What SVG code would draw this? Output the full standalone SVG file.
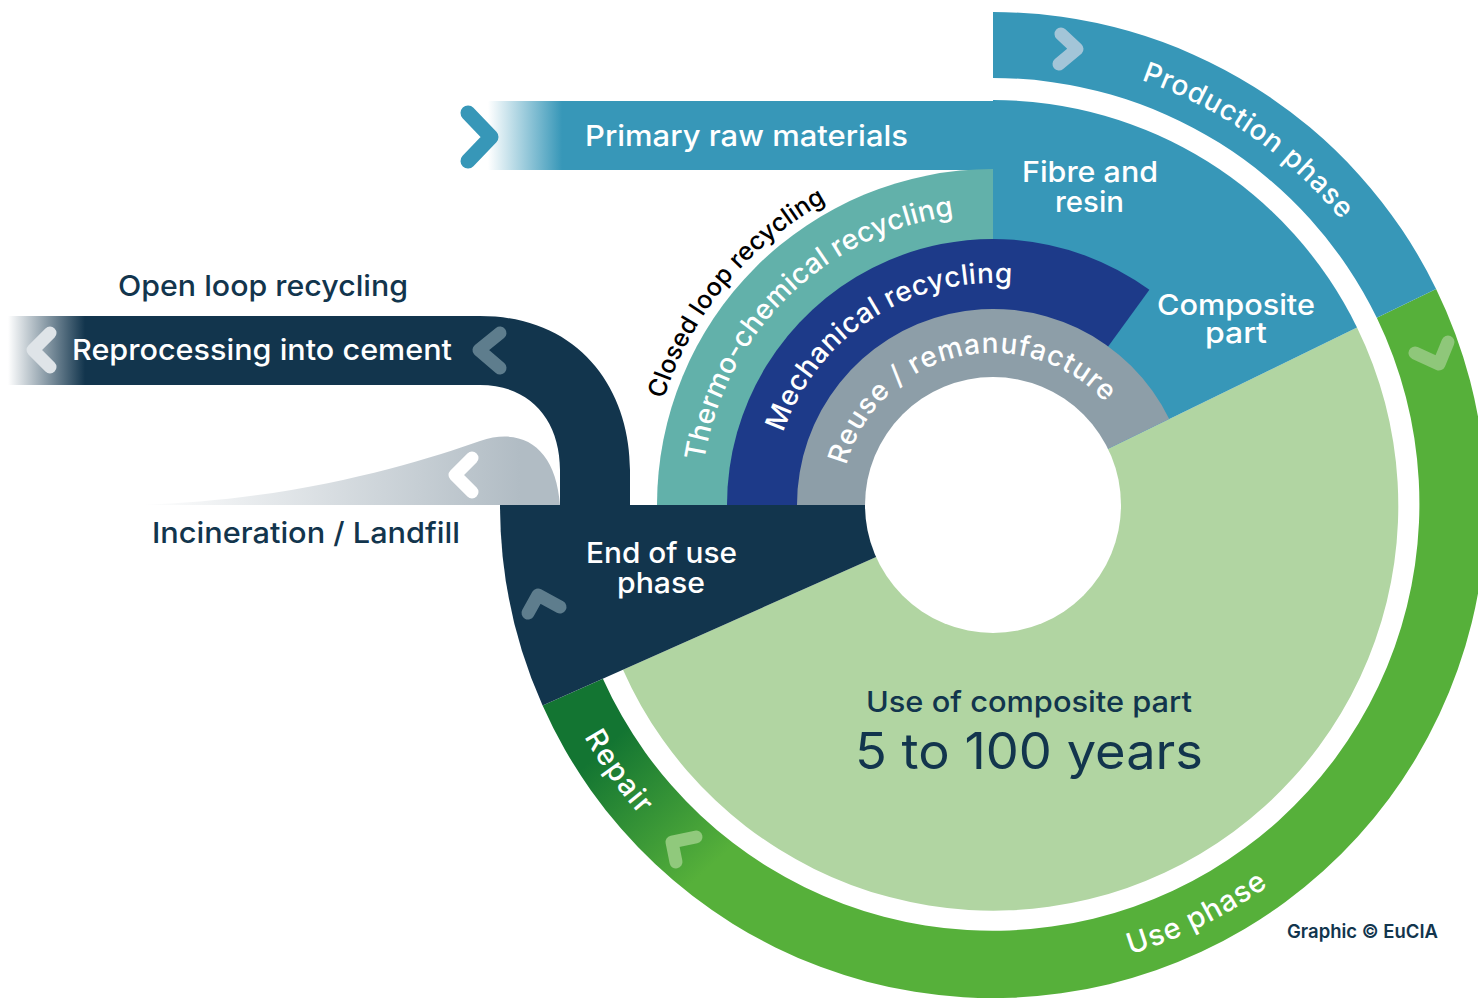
<svg xmlns="http://www.w3.org/2000/svg" width="1478" height="1000" viewBox="0 0 1478 1000">
<style>
.t{font-family:Inter,"Noto Sans","DejaVu Sans",sans-serif;font-weight:500}
.w{fill:#ffffff}
.n{fill:#12354d}
.k{fill:#000000}
.chev{fill:none;stroke-linecap:round;stroke-linejoin:round;stroke-width:13}
</style>
<defs>
<linearGradient id="gPrm" gradientUnits="userSpaceOnUse" x1="488" y1="0" x2="562" y2="0">
<stop offset="0" stop-color="#ffffff"/><stop offset="1" stop-color="#3797b8"/>
</linearGradient>
<linearGradient id="gRep" gradientUnits="userSpaceOnUse" x1="8" y1="0" x2="85" y2="0">
<stop offset="0" stop-color="#ffffff"/><stop offset="1" stop-color="#12354d"/>
</linearGradient>
<linearGradient id="gInc" gradientUnits="userSpaceOnUse" x1="140" y1="0" x2="520" y2="0">
<stop offset="0" stop-color="#ffffff"/><stop offset="1" stop-color="#b1bcc4"/>
</linearGradient>
<linearGradient id="gUse" gradientUnits="userSpaceOnUse" x1="603" y1="749" x2="710" y2="867">
<stop offset="0" stop-color="#137532"/><stop offset="1" stop-color="#56b03a"/>
</linearGradient>
<path id="pProd" d="M 1032.2 56.7 A 450 450 0 0 1 1400.8 314.8"/>
<path id="pUse" d="M 964.3 974.1 A 470 470 0 0 0 1384.9 764.4"/>
<path id="pRepair" d="M 525.2 550.0 A 470 470 0 0 0 798.1 932.7"/>
<path id="pClosed" d="M 647 505 A 346 346 0 0 1 927.0 165.4"/>
<path id="pThermo" d="M 705.4 555.7 A 292 292 0 0 1 1048.7 218.4"/>
<path id="pMech" d="M 771.1 497.3 A 222 222 0 0 1 1076.2 299.2"/>
<path id="pReuse" d="M 842.0 487.8 A 152 152 0 0 1 1119.8 421.1"/>
</defs>

<g id="use-phase-ring">
<path d="M 1436.1 288.9 A 493 493 0 1 1 542.6 705.5 L 602.9 678.7 A 427 427 0 1 0 1376.8 317.8 Z" fill="url(#gUse)"/>
<text class="t w" font-size="29" letter-spacing="1"><textPath href="#pUse" startOffset="50%" text-anchor="middle">Use phase</textPath></text>
<text class="t w" font-size="29" letter-spacing="1.5"><textPath href="#pRepair" startOffset="50%" text-anchor="middle">Repair</textPath></text>
</g>

<g id="production-phase">
<path d="M 993 12 A 493 493 0 0 1 1436.1 288.9 L 1376.8 317.8 A 427 427 0 0 0 993 78 Z" fill="#3797b8"/>
<text class="t w" font-size="28" letter-spacing="0.8"><textPath href="#pProd" startOffset="50%" text-anchor="middle">Production phase</textPath></text>
</g>

<g id="use-of-composite-part">
<path d="M 993 505 L 1357.0 327.5 A 405 405 0 1 1 623.0 669.7 Z" fill="#b1d5a2"/>
<text class="t n" x="866" y="712" font-size="29" textLength="326" lengthAdjust="spacingAndGlyphs">Use of composite part</text>
<text class="t n" x="855" y="769" font-size="50" textLength="348" lengthAdjust="spacingAndGlyphs" style="font-weight:400">5 to 100 years</text>
</g>

<g id="primary-raw-materials">
<rect x="488" y="101" width="506" height="69" fill="url(#gPrm)"/>
<path d="M 993 505 L 993 100 A 405 405 0 0 1 1357.0 327.5 Z" fill="#3797b8"/>
<text class="t w" x="585" y="146" font-size="29" textLength="323" lengthAdjust="spacingAndGlyphs">Primary raw materials</text>
<text class="t w" x="1022" y="182" font-size="29" textLength="136" lengthAdjust="spacingAndGlyphs">Fibre and</text>
<text class="t w" x="1055" y="212" font-size="29" textLength="69" lengthAdjust="spacingAndGlyphs">resin</text>
<text class="t w" x="1157" y="315" font-size="29" textLength="158" lengthAdjust="spacingAndGlyphs">Composite</text>
<text class="t w" x="1205" y="343" font-size="29" textLength="62" lengthAdjust="spacingAndGlyphs">part</text>
</g>

<g id="thermo-chemical-recycling">
<path d="M 993 505 L 657 505 A 336 336 0 0 1 993 169 Z" fill="#62b1aa"/>
<text class="t w" font-size="28" letter-spacing="0.3"><textPath href="#pThermo" startOffset="50%" text-anchor="middle">Thermo-chemical recycling</textPath></text>
</g>

<g id="mechanical-recycling">
<path d="M 993 505 L 727 505 A 266 266 0 0 1 1149.4 289.8 Z" fill="#1d3a89"/>
<text class="t w" font-size="28" letter-spacing="0.5"><textPath href="#pMech" startOffset="50%" text-anchor="middle">Mechanical recycling</textPath></text>
</g>

<g id="reuse-remanufacture">
<path d="M 993 505 L 797 505 A 196 196 0 0 1 1169.2 419.1 Z" fill="#8d9ea8"/>
<text class="t w" font-size="28" letter-spacing="1"><textPath href="#pReuse" startOffset="50%" text-anchor="middle">Reuse / remanufacture</textPath></text>
</g>

<g id="closed-loop-recycling">
<text class="t k" font-size="25" letter-spacing="0.2"><textPath href="#pClosed" startOffset="50%" text-anchor="middle">Closed loop recycling</textPath></text>
</g>

<g id="incineration-landfill">
<path d="M 140 505 C 300 500 420 462 480 441 C 525 426 556 450 560 505 Z" fill="url(#gInc)"/>
<text class="t n" x="152" y="543" font-size="29" textLength="308" lengthAdjust="spacingAndGlyphs">Incineration / Landfill</text>
</g>

<g id="open-loop-recycling">
<path d="M 8 316 L 480 316 C 580 316 630 390 630 470 L 630 506 L 560 506 L 560 470 C 560 420 530 385 480 385 L 8 385 Z" fill="url(#gRep)"/>
<text class="t n" x="118" y="296" font-size="29" textLength="290" lengthAdjust="spacingAndGlyphs">Open loop recycling</text>
<text class="t w" x="72" y="360" font-size="29" textLength="380" lengthAdjust="spacingAndGlyphs">Reprocessing into cement</text>
</g>

<g id="end-of-use-phase">
<path d="M 993 505 L 500 505 A 493 493 0 0 0 542.6 705.5 Z" fill="#12354d"/>
<text class="t w" x="586" y="563" font-size="29" textLength="151" lengthAdjust="spacingAndGlyphs">End of use</text>
<text class="t w" x="617" y="593" font-size="29" textLength="88" lengthAdjust="spacingAndGlyphs">phase</text>
</g>

<circle id="core" cx="993" cy="505" r="128" fill="#ffffff"/>

<g id="connectors">
<polyline class="chev" points="468,113 491,137 468,161" stroke="#3797b8" style="stroke-width:15"/>
<polyline class="chev" points="1061,34 1077,49 1059,64" stroke="#a3c5d8"/>
<polyline class="chev" points="1415,353 1439,364 1448,342" stroke="#8fc77a"/>
<polyline class="chev" points="676,862 672,842 696,837" stroke="#90c97c"/>
<polyline class="chev" points="528,613 538,595 560,607" stroke="#5e7d8d"/>
<polyline class="chev" points="500,333 479,350 500,368" stroke="#5e7d8d"/>
<polyline class="chev" points="50,333 33,350 50,367" stroke="#dfe4e8"/>
<polyline class="chev" points="472,458 455,475 472,492" stroke="#ffffff"/>
</g>

<g id="credit">
<text class="t n" x="1287" y="938" font-size="19" textLength="151" lengthAdjust="spacingAndGlyphs" style="font-weight:600">Graphic © EuCIA</text>
</g>
</svg>
